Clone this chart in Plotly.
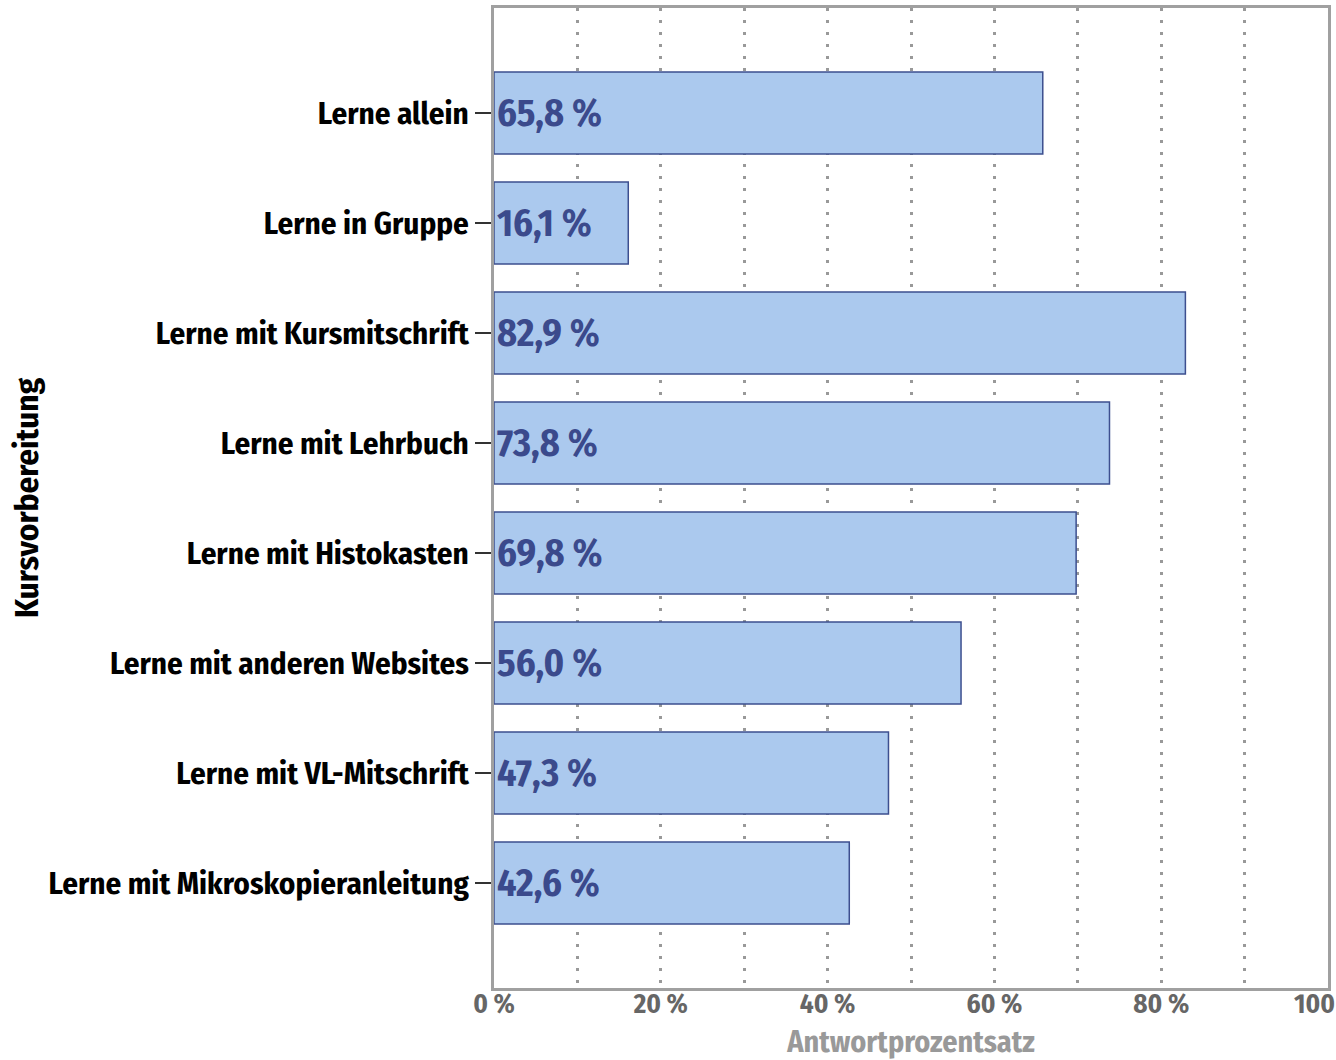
import plotly.graph_objects as go

categories = ["Lerne allein", "Lerne in Gruppe", "Lerne mit Kursmitschrift", "Lerne mit Lehrbuch",
              "Lerne mit Histokasten", "Lerne mit anderen Websites", "Lerne mit VL-Mitschrift",
              "Lerne mit Mikroskopieranleitung"]
values = [65.8, 16.1, 82.9, 73.8, 69.8, 56.0, 47.3, 42.6]
xticks = [0, 20, 40, 60, 80, 100]
xticklabels = ["0 %", "20 %", "40 %", "60 %", "80 %", "100 %"]

font = "Fira Sans Condensed, Roboto Condensed, DejaVu Sans Condensed, Liberation Sans Narrow, Noto Sans, sans-serif"

fig = go.Figure(go.Bar(
    x=values, y=categories, orientation="h",
    marker=dict(color="#abc9ee", line=dict(color="#3d4f8f", width=1.5)),
    width=0.745,
    texttemplate="%{x:.1f} %", textposition="inside", insidetextanchor="start",
    textfont=dict(color="#3b4a8c", size=38, family=font, weight="bold"),
    constraintext="none",
))

fig.update_layout(
    width=1336, height=1060,
    margin=dict(l=494, r=8, t=8, b=72, autoexpand=False),
    plot_bgcolor="white", paper_bgcolor="white",
    separators=",.",
    font=dict(family=font),
    showlegend=False,
)
fig.update_xaxes(
    range=[0, 100], tickvals=xticks, ticktext=xticklabels,
    tickfont=dict(size=27, color="#666666", weight="bold"),
    ticklabelstandoff=-10, ticklabeloverflow="allow",
    showgrid=True, gridcolor="#999999", griddash="3px,9px", gridwidth=3,
    minor=dict(dtick=10, showgrid=True, gridcolor="#999999", griddash="3px,9px", gridwidth=3),
    showline=True, linecolor="#a0a0a0", linewidth=3, mirror=True,
    zeroline=False, ticks="", automargin=False,
    title=dict(text="Antwortprozentsatz", font=dict(size=30, color="#999999", weight="bold"), standoff=12),
)
fig.update_yaxes(
    categoryorder="array", categoryarray=categories, autorange=False, range=[7.955, -0.955],
    tickfont=dict(size=31, color="black", weight="bold"),
    ticks="outside", ticklen=16, tickwidth=2, tickcolor="#333333",
    showline=True, linecolor="#a0a0a0", linewidth=3, mirror=True, showgrid=False, automargin=False,
    title=dict(text="Kursvorbereitung", font=dict(size=33, color="black", weight="bold"), standoff=0),
)

# drop the default 8px body margin so the figure fills the window
fig.write_html("out.html", config={"displayModeBar": False},
               post_script="document.body.style.margin='0';document.body.style.overflow='hidden';")
